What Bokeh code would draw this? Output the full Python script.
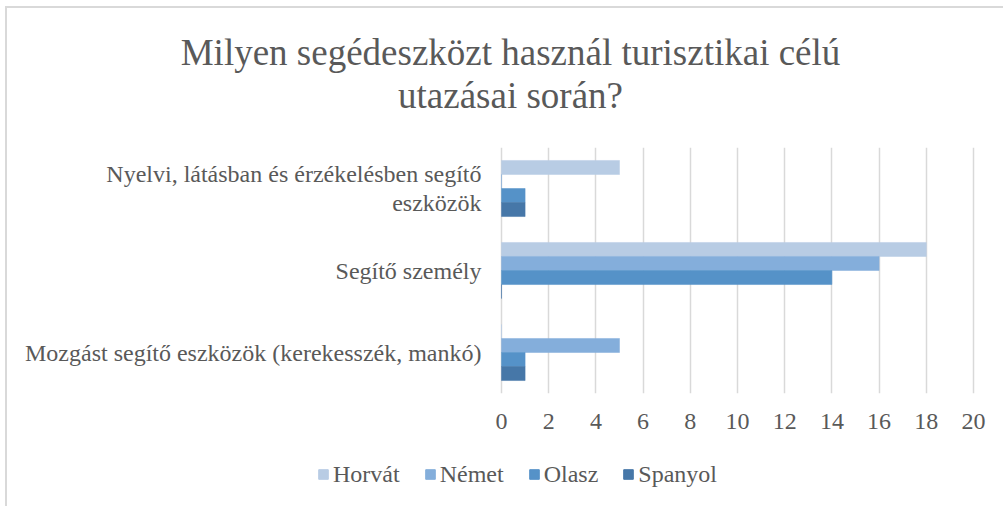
from bokeh.plotting import figure
from bokeh.layouts import column
from bokeh.models import FactorRange, Range1d, FixedTicker, ColumnDataSource, Legend, LegendItem, Label
from bokeh.transform import dodge
from bokeh.core.properties import value
from bokeh.embed import file_html
from bokeh.resources import INLINE

# ---- data ----
categories = [
    "Nyelvi, látásban és érzékelésben segítő\neszközök",
    "Segítő személy",
    "Mozgást segítő eszközök (kerekesszék, mankó)",
]
series = ["Horvát", "Német", "Olasz", "Spanyol"]
horvat = [5, 18, 0]
nemet = [0, 16, 5]
olasz = [1, 14, 1]
spanyol = [1, 0, 1]
x_ticks = [0, 2, 4, 6, 8, 10, 12, 14, 16, 18, 20]
title_lines = ["Milyen segédeszközt használ turisztikai célú", "utazásai során?"]

colors = ["#b8cce4", "#84aedb", "#5592c8", "#4677a8"]
FONT = "Liberation Serif"
TXT = "#595959"
GRID = "#d9d9d9"

values_by_series = [horvat, nemet, olasz, spanyol]
sources = [ColumnDataSource(dict(cat=categories, val=v)) for v in values_by_series]

# the frame spans the full chart width; the value scale 0..20 sits in its right part
p = figure(
    width=996, height=430,
    y_range=FactorRange(factors=list(reversed(categories)), range_padding=0),
    x_range=Range1d(-20.932, 21.271),
    y_axis_location=None,
    output_backend="svg", toolbar_location=None,
    min_border_left=0, min_border_right=0, min_border_top=139, min_border_bottom=45,
    outline_line_color=None,
)

bar_h = 0.171
offsets = [1.5 * bar_h, 0.5 * bar_h, -0.5 * bar_h, -1.5 * bar_h]
for src, col, off in zip(sources, colors, offsets):
    p.hbar(y=dodge("cat", off, range=p.y_range), right="val", left=0, height=bar_h,
           source=src, fill_color=col, line_color=col, line_width=0.5)

# category labels, right-aligned just left of the value-axis origin
lab_src = ColumnDataSource(dict(cat=categories, x0=[0] * len(categories)))
p.text(x="x0", y="cat", text="cat", source=lab_src, x_offset=-20,
       text_align="right", text_baseline="middle", text_font=value(FONT),
       text_font_size="24px", text_color=TXT, text_line_height=1.1)

# x axis
p.xaxis.ticker = FixedTicker(ticks=x_ticks)
p.xaxis.axis_line_color = None
p.xaxis.major_tick_line_color = None
p.xaxis.minor_tick_line_color = None
p.xaxis.major_label_standoff = 14
p.xaxis.major_label_text_font = FONT
p.xaxis.major_label_text_font_size = "24px"
p.xaxis.major_label_text_color = TXT

p.xgrid.ticker = FixedTicker(ticks=x_ticks)
p.xgrid.grid_line_color = GRID
p.xgrid.grid_line_width = 1.5
p.ygrid.grid_line_color = None

# title, two centred lines in the panel above the plot
for txt, yy in zip(title_lines, [95, 11]):
    p.add_layout(Label(x=503, y=yy, x_units="screen", y_units="screen", text=txt,
                       text_align="center", text_baseline="alphabetic",
                       text_font=FONT, text_font_size="37px", text_color=TXT), "above")

# legend strip under the chart (its bars fall outside its view; only the key shows)
lg = figure(width=996, height=68, x_range=Range1d(-2, -1),
            y_range=FactorRange(factors=list(reversed(categories))),
            x_axis_location=None, y_axis_location=None,
            output_backend="svg", toolbar_location=None,
            min_border=0, outline_line_color=None)
lg.grid.visible = False
items = []
for name, src, col in zip(series, sources, colors):
    r = lg.hbar(y="cat", right="val", left=0, height=0.5, source=src,
                fill_color=col, line_color=col)
    items.append(LegendItem(label=name, renderers=[r]))
legend = Legend(items=items, orientation="horizontal", location=(310, 18),
                padding=0, margin=0, spacing=24, glyph_width=12, glyph_height=12,
                label_height=28, label_standoff=4, label_text_font=FONT,
                label_text_font_size="24px", label_text_color=TXT,
                border_line_color=None, background_fill_alpha=0)
lg.add_layout(legend)

page = column(p, lg, spacing=0,
              styles={"margin-left": "5px", "margin-top": "6px",
                      "border-left": "2px solid #d9d9d9", "border-top": "2px solid #d9d9d9"})

open("out.html", "w").write(file_html(page, INLINE))
